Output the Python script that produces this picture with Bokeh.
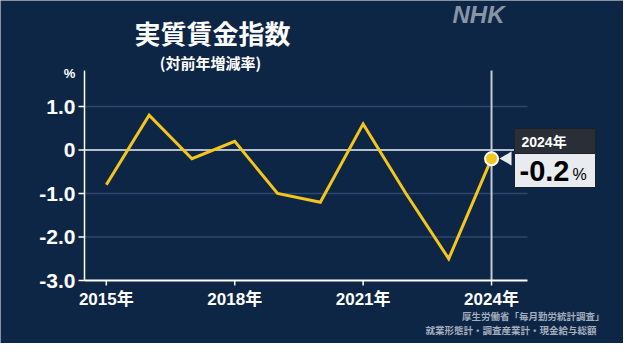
import math
from bokeh.plotting import figure
from bokeh.models import Range1d, Label
from bokeh.core.properties import value
from bokeh.embed import file_html
from bokeh.resources import INLINE

# ---- data ----
years = [2015, 2016, 2017, 2018, 2019, 2020, 2021, 2022, 2023, 2024]
wages = [-0.8, 0.8, -0.2, 0.2, -1.0, -1.2, 0.6, -1.0, -2.5, -0.2]
y_ticks = [-3, -2, -1, 0, 1]
y_tick_labels = ["-3.0", "-2.0", "-1.0", "0", "1.0"]
x_ticks = [2015, 2018, 2021, 2024]
x_tick_labels = ["2015年", "2018年", "2021年", "2024年"]
grid_values = [1, -1, -2]
title_text = "実質賃金指数"
subtitle_text = "(対前年増減率)"
source_lines = ["厚生労働省「毎月勤労統計調査」", "就業形態計・調査産業計・現金給与総額"]

# ---- styles ----
BG = "#0e2646"
YELLOW = "#f4c51c"
WHITE = "#ffffff"
JP = "Noto Sans CJK JP"
LAT = "Liberation Sans, Noto Sans CJK JP"

W, H = 623, 343
PPX = 42.8
PPY = 43.5
AX_LEFT_PX, AX_BOTTOM_PX = 92, 288     # page pixel position of the axes
X0 = 2014.49                            # data x at the y-axis
Y0 = -3.0                               # data y at the x-axis
XS = X0 - (AX_LEFT_PX - 8) / PPX
XE = XS + W / PPX
YS = Y0 - (8 + H - AX_BOTTOM_PX) / PPY
YE = YS + H / PPY


def fx(px):  # page x -> data x
    return X0 + (px - AX_LEFT_PX) / PPX


def fy(py):  # page y -> data y
    return Y0 + (AX_BOTTOM_PX - py) / PPY


AX_END = fx(535)
AX_TOP = fy(78)

p = figure(width=W, height=H, output_backend="svg", toolbar_location=None,
           x_range=Range1d(XS, XE), y_range=Range1d(YS, YE),
           min_border=0)
p.axis.visible = False
p.background_fill_color = BG
p.border_fill_color = BG
p.outline_line_color = None
p.xgrid.grid_line_color = None
p.ygrid.grid_line_color = None

# grid lines & reference lines
p.segment(x0=[X0] * len(grid_values), x1=[AX_END] * len(grid_values),
          y0=grid_values, y1=grid_values, line_color="#2d486c", line_width=1.5)
p.segment(x0=[X0], x1=[AX_END], y0=[0], y1=[0], line_color="#b4bfcc", line_width=2)
p.segment(x0=[years[-1]], x1=[years[-1]], y0=[Y0], y1=[AX_TOP], line_color="#c3cad4", line_width=2)

# axes (lines, ticks, labels)
p.segment(x0=[X0], x1=[AX_END], y0=[Y0], y1=[Y0], line_color=WHITE, line_width=2)
p.segment(x0=[X0], x1=[X0], y0=[Y0], y1=[AX_TOP], line_color=WHITE, line_width=1.5)
p.segment(x0=[fx(86)] * len(y_ticks), x1=[X0] * len(y_ticks), y0=y_ticks, y1=y_ticks,
          line_color=WHITE, line_width=1.5)
p.segment(x0=x_ticks, x1=x_ticks, y0=[Y0] * len(x_ticks), y1=[fy(293)] * len(x_ticks),
          line_color=WHITE, line_width=1.5)
p.text(x=[fx(83)] * len(y_ticks), y=y_ticks, text=y_tick_labels, text_color=WHITE,
       text_font=value(LAT), text_font_size="21px", text_font_style="bold",
       text_align="right", text_baseline="middle")
p.text(x=x_ticks, y=[fy(297)] * len(x_ticks), text=x_tick_labels, text_color=WHITE,
       text_font=value(LAT), text_font_size="17px", text_font_style="bold",
       text_align="center", text_baseline="top")

# data line
p.line(years, wages, line_width=3, line_color=YELLOW, line_join="miter")
p.scatter(years[-1:], wages[-1:], size=13, fill_color=YELLOW, line_color=WHITE, line_width=2)

# callout
p.quad(left=[fx(522)], right=[fx(603)], top=[fy(136)], bottom=[fy(161)],
       fill_color="#2a2f37", line_color="#1b2029", line_width=1)
p.quad(left=[fx(522)], right=[fx(603)], top=[fy(161)], bottom=[fy(195)],
       fill_color="#e8ebf0", line_color="#1b2029", line_width=1)
p.scatter(x=[fx(515)], y=[fy(166)], marker="triangle", size=14, angle=math.pi / 2,
          fill_color="#e8ebf0", line_color=None)

p.add_layout(Label(x=fx(529), y=fy(149), text=f"{years[-1]}年", text_color=WHITE,
                   text_font=LAT, text_font_size="14px", text_font_style="bold",
                   text_baseline="middle"))
p.add_layout(Label(x=fx(527), y=fy(178), text=f"{wages[-1]:.1f}", text_color="#000000",
                   text_font=LAT, text_font_size="29px", text_font_style="bold",
                   text_baseline="middle"))
p.add_layout(Label(x=fx(580), y=fy(182), text="%", text_color="#000000",
                   text_font=LAT, text_font_size="16px",
                   text_baseline="middle"))

# titles
p.add_layout(Label(x=fx(220), y=fy(40), text=title_text, text_color=WHITE,
                   text_font=JP, text_font_size="26px", text_font_style="bold",
                   text_align="center", text_baseline="middle"))
p.add_layout(Label(x=fx(218), y=fy(70), text=subtitle_text, text_color=WHITE,
                   text_font=JP, text_font_size="15px", text_font_style="bold",
                   text_align="center", text_baseline="middle"))
p.add_layout(Label(x=fx(77), y=fy(81), text="%", text_color=WHITE,
                   text_font=LAT, text_font_size="13px", text_font_style="bold",
                   text_align="center", text_baseline="middle"))

# logo
p.add_layout(Label(x=fx(486), y=fy(22), text="NHK", text_color="#8995a7",
                   text_font=LAT, text_font_size="24px", text_font_style="bold italic",
                   text_align="center", text_baseline="middle"))

# source
p.add_layout(Label(x=fx(612), y=fy(323), text=source_lines[0], text_color="#a2adbd",
                   text_font=JP, text_font_size="9.5px", text_font_style="bold",
                   text_align="right", text_baseline="middle"))
p.add_layout(Label(x=fx(604), y=fy(337), text=source_lines[1], text_color="#a2adbd",
                   text_font=JP, text_font_size="9.5px", text_font_style="bold",
                   text_align="right", text_baseline="middle"))

open("out.html", "w").write(file_html(p, INLINE))
